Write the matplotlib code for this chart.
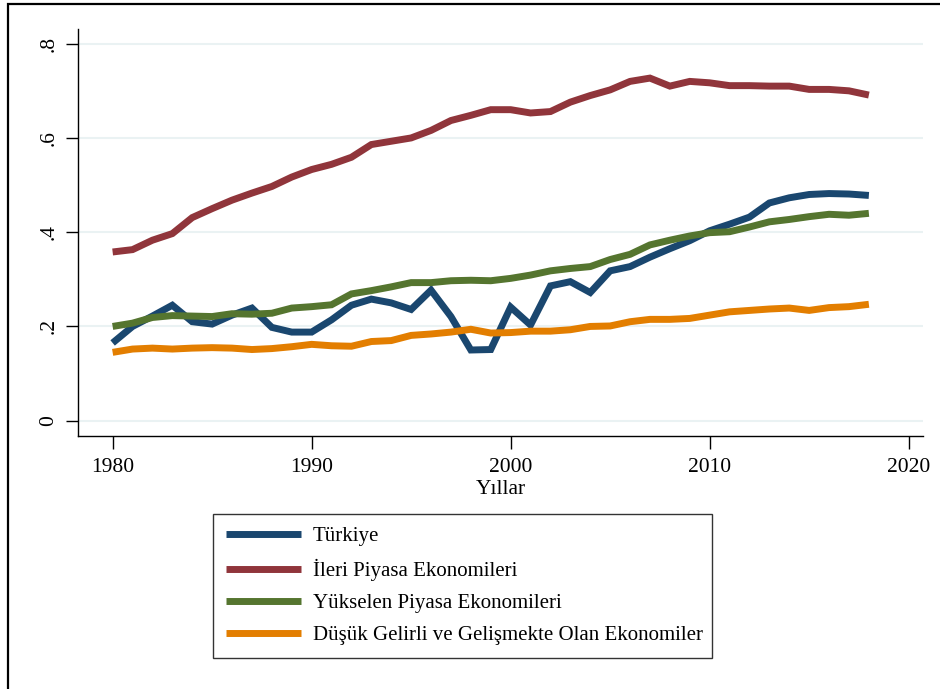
import matplotlib
matplotlib.use("Agg")
import matplotlib.pyplot as plt
from matplotlib.patches import Rectangle

years = list(range(1980, 2019))

turkiye = [0.165, 0.200, 0.222, 0.245, 0.210, 0.205, 0.224, 0.239, 0.198, 0.188,
           0.188, 0.214, 0.245, 0.258, 0.250, 0.236, 0.277, 0.221, 0.150, 0.151,
           0.241, 0.203, 0.286, 0.295, 0.272, 0.318, 0.327, 0.347, 0.365, 0.382,
           0.403, 0.417, 0.432, 0.462, 0.473, 0.480, 0.482, 0.481, 0.478]

ileri = [0.358, 0.363, 0.383, 0.397, 0.431, 0.450, 0.468, 0.483, 0.497, 0.517,
         0.533, 0.544, 0.559, 0.586, 0.593, 0.600, 0.616, 0.637, 0.648, 0.660,
         0.660, 0.653, 0.656, 0.676, 0.690, 0.702, 0.720, 0.727, 0.710, 0.720,
         0.717, 0.711, 0.711, 0.710, 0.710, 0.703, 0.703, 0.700, 0.691]

yukselen = [0.200, 0.207, 0.219, 0.223, 0.222, 0.221, 0.227, 0.226, 0.228, 0.239,
            0.242, 0.246, 0.269, 0.276, 0.284, 0.293, 0.293, 0.297, 0.298, 0.297,
            0.302, 0.309, 0.318, 0.323, 0.327, 0.342, 0.353, 0.373, 0.383, 0.392,
            0.399, 0.401, 0.411, 0.422, 0.427, 0.433, 0.438, 0.436, 0.440]

dusuk = [0.145, 0.152, 0.154, 0.152, 0.154, 0.155, 0.154, 0.151, 0.153, 0.157,
         0.162, 0.159, 0.158, 0.168, 0.170, 0.181, 0.184, 0.188, 0.194, 0.186,
         0.187, 0.190, 0.190, 0.193, 0.200, 0.201, 0.210, 0.215, 0.215, 0.217,
         0.224, 0.231, 0.234, 0.237, 0.239, 0.234, 0.240, 0.242, 0.247]

labels = ["Türkiye", "İleri Piyasa Ekonomileri", "Yükselen Piyasa Ekonomileri",
          "Düşük Gelirli ve Gelişmekte Olan Ekonomiler"]
colors = ["#1a476f", "#90353b", "#55752f", "#e37e00"]

yticks = [0, 0.2, 0.4, 0.6, 0.8]
ytick_labels = ["0", ".2", ".4", ".6", ".8"]
xticks = [1980, 1990, 2000, 2010, 2020]

plt.rcParams['font.family'] = ['Liberation Serif', 'DejaVu Serif']

W, H = 940, 689
fig = plt.figure(figsize=(W / 100, H / 100), dpi=100)
fig.patch.set_facecolor("white")

# outer frame (left and top visible)
fig.patches.append(Rectangle((8 / W, -0.1), 1.2, 1.1 - 4 / H, transform=fig.transFigure,
                             fill=False, edgecolor="black", linewidth=1.6, zorder=0))

ax_l, ax_r, ax_t, ax_b = 78, 923, 29, 436
ax = fig.add_axes([ax_l / W, 1 - ax_b / H, (ax_r - ax_l) / W, (ax_b - ax_t) / H])

series = [turkiye, ileri, yukselen, dusuk]
for s, c, lab in zip(series, colors, labels):
    ax.plot(years, s, color=c, linewidth=5, label=lab, solid_capstyle="butt",
            solid_joinstyle="miter", zorder=3)

ax.set_xlim(1978.26, 2020.72)
ax.set_ylim(-0.0325, 0.8312)
ax.set_yticks(yticks)
ax.set_yticklabels(ytick_labels)
ax.set_xticks(xticks)
ax.yaxis.grid(True, color="#eaf2f3", linewidth=1.5, zorder=0)
ax.xaxis.grid(False)
for sp in ["top", "right"]:
    ax.spines[sp].set_visible(False)
for sp in ["left", "bottom"]:
    ax.spines[sp].set_linewidth(1.0)
ax.tick_params(axis="both", direction="out", length=9, width=1.0, labelsize=15.5)
ax.tick_params(axis="x", pad=7)
ax.tick_params(axis="y", pad=5)
for t in ax.get_yticklabels():
    t.set_rotation(90)
    t.set_va("center")
ax.set_xlabel("Yıllar", fontsize=15.5, labelpad=2)

lx0, lx1, ly0 = 212.7, 711.7, 514
leg = fig.legend(loc="upper left",
                 bbox_to_anchor=(lx0 / W, 1 - ly0 / H - 0.1, (lx1 - lx0) / W, 0.1),
                 mode="expand", borderaxespad=0, fontsize=15, handlelength=3.6,
                 handletextpad=0.6, labelspacing=0.6, borderpad=0.62,
                 frameon=True, fancybox=False)
leg.get_frame().set_edgecolor("black")
leg.get_frame().set_linewidth(1.0)

fig.savefig("out.png", dpi=100, facecolor="white")
